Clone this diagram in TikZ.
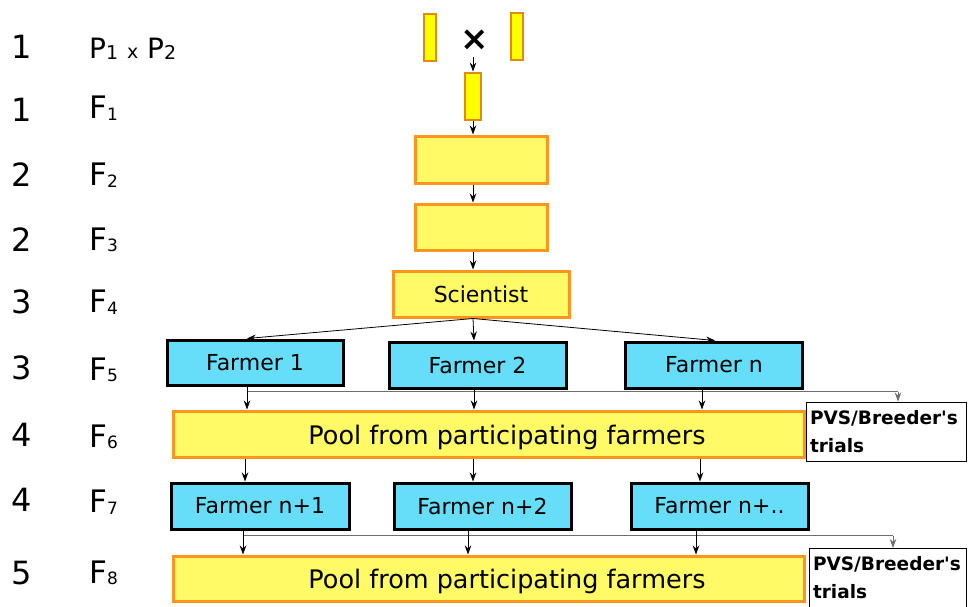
\documentclass[tikz,border=0pt]{standalone}
\usepackage{fontspec}
\setmainfont{DejaVu Sans}[Ligatures=TeXOff]
\usetikzlibrary{arrows.meta}
\definecolor{barorange}{HTML}{E08A10}
\definecolor{boxorange}{HTML}{FF951F}
\definecolor{paleyellow}{HTML}{FFFA66}
\definecolor{baryellow}{HTML}{FFFF00}
\definecolor{farmcyan}{HTML}{66DEFA}
\definecolor{linegray}{HTML}{6E6E6E}
\newcommand{\sbp}[1]{\raisebox{-1.5pt}{\fontsize{19}{19}\selectfont #1}}
\newcommand{\sbf}[1]{\raisebox{-1.5pt}{\fontsize{17}{17}\selectfont #1}}
\begin{document}
\begin{tikzpicture}[x=1pt,y=-1pt,
  num/.style={font=\fontsize{32}{32}\selectfont, anchor=center, inner sep=0},
  lab/.style={font=\fontsize{31}{31}\selectfont, anchor=west, inner sep=0},
  bar/.style={draw=barorange, line width=2.8pt, fill=baryellow, minimum width=12, minimum height=47, inner sep=0},
  ybox/.style={draw=boxorange, line width=3pt, fill=paleyellow, inner sep=0},
  farmer/.style={draw=black, line width=3pt, fill=farmcyan, minimum width=177, minimum height=46, inner sep=0, font=\fontsize{22}{22}\selectfont},
  pvs/.style={draw=black, line width=1pt, fill=white, text width=152pt, align=left, inner xsep=4pt, minimum height=59, font=\fontsize{18.5}{28}\selectfont\bfseries},
  pooltext/.style={font=\fontsize{25.5}{25.5}\selectfont, inner sep=0},
  arr/.style={-{Stealth[length=9pt,width=6.5pt]}, line width=0.8pt},
  hl/.style={draw=linegray, line width=1.5pt},
]
\useasboundingbox (0,0) rectangle (969,606);

% left column
\node[num] (n1) at (22,47) {1};
\node[num] (n2) at (22,110) {1};
\node[num] (n3) at (22,175) {2};
\node[num] (n4) at (22,240) {2};
\node[num] (n5) at (22,302) {3};
\node[num] (n6) at (22,368) {3};
\node[num] (n7) at (22,435) {4};
\node[num] (n8) at (22,500) {4};
\node[num] (n9) at (22,573) {5};
\node[lab, font=\fontsize{28}{28}\selectfont] (l1) at (89,49) {P\sbp{1} {\fontsize{19}{19}\selectfont x} P\sbp{2}};
\node[lab] (l2) at (89,108) {F\sbf{1}};
\node[lab] (l3) at (89,175) {F\sbf{2}};
\node[lab] (l4) at (89,240) {F\sbf{3}};
\node[lab] (l5) at (89,302) {F\sbf{4}};
\node[lab] (l6) at (89,370) {F\sbf{5}};
\node[lab] (l7) at (89,437) {F\sbf{6}};
\node[lab] (l8) at (89,502) {F\sbf{7}};
\node[lab] (l9) at (89,573) {F\sbf{8}};

% parents and cross
\node[bar] (p1) at (430,37.5) {};
\node[bar] (p2) at (517,36.5) {};
\node[font=\fontsize{34}{34}\selectfont\bfseries, inner sep=0] (cross) at (475,40) {×};
\node[bar, minimum width=16] (f1) at (473,96.5) {};
\node[ybox, minimum width=132, minimum height=47] (f2) at (481,159.5) {};
\node[ybox, minimum width=132, minimum height=46] (f3) at (481,227) {};
\node[ybox, minimum width=176, minimum height=46, font=\fontsize{22}{22}\selectfont] (sci) at (481,294) {Scientist};

\coordinate (cx) at (473,57);
\draw[arr] (cx) -- (f1.north);
\draw[arr] (f1.south) -- (f1 |- f2.north);
\draw[arr] (f2.south -| f1) -- (f3.north -| f1);
\draw[arr] (f3.south -| f1) -- (sci.north -| f1);

% farmers row 1
\node[farmer, minimum width=176, minimum height=45] (fa) at (255,362.5) {Farmer 1};
\node[farmer] (fb) at (477.5,365) {Farmer 2};
\node[farmer] (fc) at (714,365) {Farmer n};
\coordinate (sb) at (sci.south -| f1);
\draw[arr] (sb) -- ([xshift=-8pt]fa.north);
\draw[arr] (sb) -- ([xshift=-3.5pt]fb.north);
\draw[arr] (sb) -- ([xshift=1pt]fc.north);

% pool 1
\node[ybox, minimum width=631, minimum height=46] (pool1) at (488.5,434) {};
\node[pooltext] (pt1) at (507,437) {Pool from participating farmers};
\node[pvs] (pvs1) at (886,431.5) {PVS/Breeder's\\trials};
\coordinate (a1) at ([xshift=-8pt]fa.south);
\coordinate (a2) at ([xshift=-3.5pt]fb.south);
\coordinate (a3) at ([xshift=-12pt]fc.south);
\coordinate (h1) at (0,391.5);
\coordinate (v1) at ([xshift=12pt]pvs1.north);
\draw[hl] (a1 |- h1) -- (v1 |- h1);
\draw[arr, linegray] (v1 |- h1) -- (v1);
\draw[arr] (a1) -- (a1 |- pool1.north);
\draw[arr] (a2) -- (a2 |- pool1.north);
\draw[arr] (a3) -- (a3 |- pool1.north);

% farmers row 2
\node[farmer, minimum width=178] (fd) at (260,506) {Farmer n+1};
\node[farmer] (fe) at (482.5,506) {Farmer n+2};
\node[farmer] (ff) at (719.5,506) {Farmer n+..};
\coordinate (b1) at (245,0);
\coordinate (b2) at (473,0);
\coordinate (b3) at (700,0);
\draw[arr] (b1 |- pool1.south) -- (b1 |- fd.north);
\draw[arr] (b2 |- pool1.south) -- (b2 |- fe.north);
\draw[arr] (b3 |- pool1.south) -- (b3 |- ff.north);

% pool 2
\node[ybox, minimum width=631, minimum height=45] (pool2) at (488.5,578.5) {};
\node[pooltext] (pt2) at (507,581) {Pool from participating farmers};
\node[pvs, text width=149pt] (pvs2) at (887.5,578) {PVS/Breeder's\\trials};
\coordinate (c1) at (243,0);
\coordinate (c2) at (468,0);
\coordinate (c3) at (696,0);
\coordinate (h2) at (0,535.5);
\coordinate (v2) at (893,0);
\draw[hl] (c1 |- h2) -- (v2 |- h2);
\draw[arr, linegray] (v2 |- h2) -- (v2 |- pvs2.north);
\draw[arr] (c1 |- fd.south) -- (c1 |- pool2.north);
\draw[arr] (c2 |- fe.south) -- (c2 |- pool2.north);
\draw[arr] (c3 |- ff.south) -- (c3 |- pool2.north);
\end{tikzpicture}
\end{document}
